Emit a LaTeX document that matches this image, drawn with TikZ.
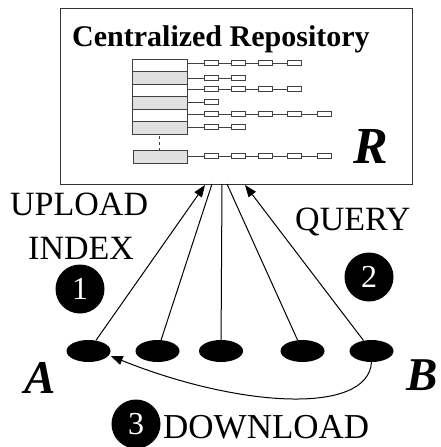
\documentclass[tikz,border=0pt]{standalone}
\usepackage{fontspec}
\setmainfont{Liberation Serif}
\usetikzlibrary{arrows.meta,shapes.geometric}
\begin{document}
\begin{tikzpicture}[x=1pt,y=1pt,
  peer/.style={ellipse,fill=black,minimum width=44pt,minimum height=22pt,inner sep=0pt},
  num/.style={circle,fill=black,minimum size=49pt,inner sep=0pt,text=white,font=\fontsize{32}{32}\selectfont},
  lbl/.style={anchor=base west,inner sep=0pt,font=\fontsize{34}{34}\selectfont},
  big/.style={anchor=base west,inner sep=0pt,font=\fontsize{47}{47}\selectfont\bfseries\itshape},
  link/.style={line width=1pt},
  arr/.style={link,-{Triangle[length=12pt,width=9pt]}},
  cell/.style={draw=black!75,line width=0.9pt},
  ]
\useasboundingbox (0,-447) rectangle (441,0);
\node[draw=black!80,line width=1.2pt,minimum width=352pt,minimum height=176pt,inner sep=0pt,anchor=north west] (repo) at (60,-8) {};
\node[anchor=base west,inner sep=0pt,font=\fontsize{30}{30}\selectfont\bfseries] (title) at (72,-46) {Centralized Repository};
% index column
\foreach \i/\col in {0/white,1/black!12,2/white,3/black!12,4/white,5/black!12}
  \draw[cell,fill=\col] (132,{-59-12.5*\i}) rectangle (187,{-71.5-12.5*\i});
\draw[cell,fill=black!12] (133,-150) rectangle (187,-163);
\draw[cell,dash pattern=on 3pt off 3pt] (159,-136) -- (159,-150);
% chains
\foreach \yy/\cnt in {63/4,78/2,89/4,102/1,114/5,127/2,156/5}{
  \foreach \k/\xp/\xs in {1/187/204,2/218/231,3/245/258,4/272/287,5/301/317}{
    \ifnum\k>\cnt\relax\else
      \draw[cell] (\xp,-\yy) -- (\xs,-\yy);
      \draw[cell,fill=white] (\xs,{-\yy+2.5}) rectangle ({\xs+14},{-\yy-2.5});
    \fi
  }
}
\node[big,font=\fontsize{52}{52}\selectfont\bfseries\itshape] (lr) at (353,-163) {R};
% peers
\node[peer] (pA) at (88.5,-351) {};
\node[peer] (p2) at (157.5,-351) {};
\node[peer] (p3) at (221,-351) {};
\node[peer] (p4) at (302.5,-351) {};
\node[peer] (pB) at (371.5,-351) {};
\coordinate (rA) at (205,-185);
\coordinate (r2) at (212,-184);
\coordinate (r3) at (222,-184);
\coordinate (r4) at (227,-184);
\coordinate (rB) at (245,-185);
\draw[arr] (pA) -- (rA);
\draw[link] (p2) -- (r2);
\draw[link] (p3) -- (r3);
\draw[link] (p4) -- (r4);
\draw[arr] (pB) -- (rB);
\draw[arr] (pB.south) .. controls (368,-415) and (240,-408) .. ([yshift=-5pt]pA.east);
% labels
\node[lbl] (up) at (10,-215) {UPLOAD};
\node[lbl] (idx) at (28,-259) {INDEX};
\node[lbl] (qry) at (295,-230) {QUERY};
\node[lbl,font=\fontsize{35}{35}\selectfont] (dl) at (163,-438.5) {DOWNLOAD};
\node[num] (n1) at (80,-289) {1};
\node[num] (n2) at (369,-277) {2};
\node[num] (n3) at (136,-424) {3};
\node[big] (la) at (24,-393) {A};
\node[big] (lb) at (406,-390) {B};
\end{tikzpicture}
\end{document}
